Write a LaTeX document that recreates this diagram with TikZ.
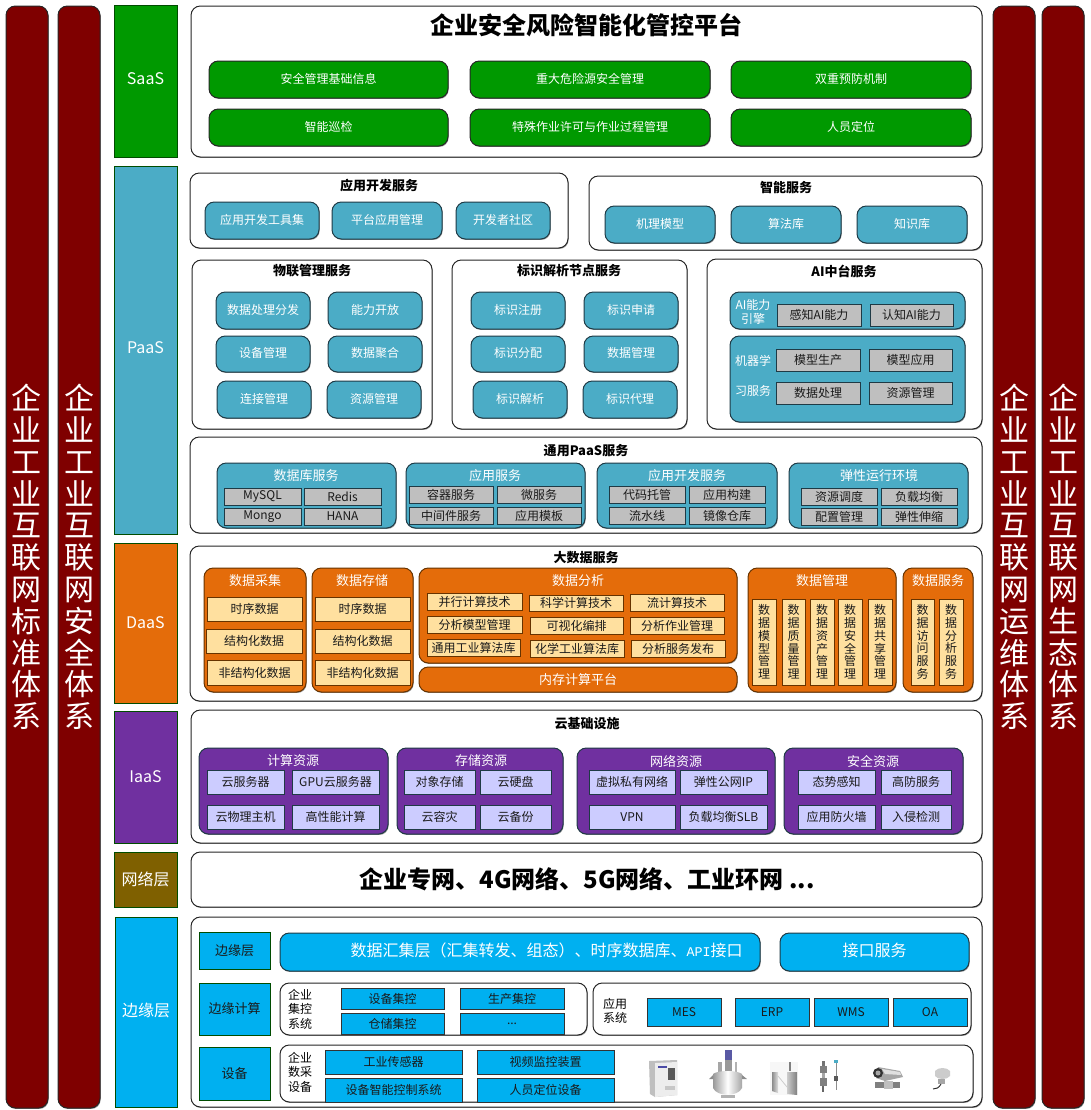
\documentclass[tikz,border=0pt]{standalone}
\usepackage{fontspec}
\setmainfont{Noto Sans CJK SC}
\newfontfamily\apifont{Liberation Mono}
\usetikzlibrary{shadows}
\definecolor{cbar}{HTML}{7F0000}
\definecolor{cgreen}{HTML}{009900}
\definecolor{cteal}{HTML}{4BACC6}
\definecolor{corange}{HTML}{E46C0A}
\definecolor{cpurple}{HTML}{7030A0}
\definecolor{colive}{HTML}{7F6000}
\definecolor{ccyan}{HTML}{00B0F0}
\definecolor{clav}{HTML}{CCCCFF}
\definecolor{cyel}{HTML}{FFE09F}
\definecolor{cgray}{HTML}{BFBFBF}
\definecolor{cedge}{HTML}{1F3A45}
\definecolor{ctext}{HTML}{1A1A1A}
\newcommand\fa{\fontsize{9}{11}\selectfont}
\newcommand\fb{\fontsize{9.75}{11}\selectfont}
\newcommand\fc{\fontsize{12}{14}\selectfont}
\newcommand\bx[7]{\node[#2,minimum width={(#5-#3)*0.75},minimum height={(#6-#4)*0.75}] (#1) at ({(#3+#5)/2},{(#4+#6)/2}) {#7};}
\newcommand\lb[5]{\node[#2] (#1) at (#3,#4) {#5};}
\tikzset{
  base/.style={draw=black!85,line width=.75pt,inner sep=0pt,outer sep=0pt,align=center,rectangle},
  shd/.style={drop shadow={shadow xshift=.5pt,shadow yshift=-.7pt,fill=black!60,opacity=.7}},
  bigbar/.style={base,fill=cbar,rounded corners=7pt,text=white,shd,font=\fontsize{22.5}{23.85}\selectfont},
  layer/.style={base,draw=black!50!green!60!black,text=white,font=\fontsize{12}{14}\selectfont},
  panel/.style={base,fill=white,rounded corners=7pt,shd,text=black},
  ttl/.style={inner sep=0pt,text=black,align=center,font=\fontsize{9.75}{11}\selectfont\bfseries},
  rsm/.style={base,rounded corners=7pt,text=white,font=\fa,shd,text height=7.9pt,text depth=2.6pt},
  grp/.style={base,draw=cedge,rounded corners=7pt,text=white,font=\fb,shd},
  sub/.style={base,draw=cedge,fill=#1,text=ctext,font=\fa,shd},
  wtxt/.style={inner sep=0pt,text=white,align=center,font=\fb},
  btxt/.style={inner sep=0pt,text=black,align=center,font=\fa},
}
\begin{document}
\begin{tikzpicture}[x=0.75pt,y=-0.75pt]
\useasboundingbox (0,0) rectangle (1091,1110);
% side bars
\bx{barA}{bigbar}{6}{6}{48}{1108}{企\\业\\工\\业\\互\\联\\网\\标\\准\\体\\系}
\bx{barB}{bigbar}{58}{6}{100}{1108}{企\\业\\工\\业\\互\\联\\网\\安\\全\\体\\系}
\bx{barC}{bigbar}{993}{6}{1035}{1108}{企\\业\\工\\业\\互\\联\\网\\运\\维\\体\\系}
\bx{barD}{bigbar}{1042}{6}{1084}{1108}{企\\业\\工\\业\\互\\联\\网\\生\\态\\体\\系}
% layers
\bx{saas}{layer,fill=cgreen,text height=8.8pt,text depth=3.2pt}{114}{5}{177}{157}{SaaS}
\bx{paas}{layer,fill=cteal,text height=8.8pt,text depth=3.2pt}{114}{166}{177}{534}{PaaS}
\bx{daas}{layer,fill=corange}{114}{543}{177}{703}{DaaS}
\bx{iaas}{layer,fill=cpurple}{114}{711}{177}{843}{IaaS}
\bx{netl}{layer,fill=colive}{114}{852}{177}{907}{网络层}
\bx{edge}{layer,fill=ccyan,text height=10.6pt,text depth=3.4pt}{115}{917}{177}{1107}{边缘层}
% SaaS
\bx{pTop}{panel}{191}{6}{982}{157}{}
\lb{tTop}{ttl,font=\fontsize{18}{20}\selectfont\bfseries}{586.5}{25}{企业安全风险智能化管控平台}
\tikzset{gbox/.style={rsm,fill=cgreen}}
\bx{s1}{gbox}{209}{61}{448}{98}{安全管理基础信息}
\bx{s2}{gbox}{470}{61}{710}{98}{重大危险源安全管理}
\bx{s3}{gbox}{731}{61}{971}{98}{双重预防机制}
\bx{s4}{gbox}{209}{109}{448}{146}{智能巡检}
\bx{s5}{gbox}{470}{109}{710}{146}{特殊作业许可与作业过程管理}
\bx{s6}{gbox}{731}{109}{971}{146}{人员定位}
% PaaS top
\tikzset{tbox/.style={rsm,fill=cteal,draw=cedge}}
\bx{pApp}{panel}{190}{173}{568}{248}{}
\lb{tApp}{ttl}{379}{185.5}{应用开发服务}
\bx{a1}{tbox}{205}{202}{319}{239}{应用开发工具集}
\bx{a2}{tbox}{332}{202}{442}{239}{平台应用管理}
\bx{a3}{tbox}{456}{202}{550}{239}{开发者社区}
\bx{pInt}{panel}{589}{176}{982}{250}{}
\lb{tInt}{ttl}{786}{188}{智能服务}
\bx{i1}{tbox}{605}{206}{715}{243}{机理模型}
\bx{i2}{tbox}{731}{206}{841}{243}{算法库}
\bx{i3}{tbox}{857}{206}{967}{243}{知识库}
% IoT
\bx{pIot}{panel}{192}{260}{432}{429}{}
\lb{tIot}{ttl}{312}{271}{物联管理服务}
\bx{o1}{tbox}{216}{292}{310}{329}{数据处理分发}
\bx{o2}{tbox}{328}{292}{422}{329}{能力开放}
\bx{o3}{tbox}{216}{336}{310}{372}{设备管理}
\bx{o4}{tbox}{328}{336}{422}{372}{数据聚合}
\bx{o5}{tbox}{217}{381}{311}{418}{连接管理}
\bx{o6}{tbox}{327}{381}{421}{418}{资源管理}
% ID
\bx{pId}{panel}{452}{260}{687}{429}{}
\lb{tId}{ttl}{569}{271}{标识解析节点服务}
\bx{d1}{tbox}{471}{292}{565}{329}{标识注册}
\bx{d2}{tbox}{584}{292}{678}{329}{标识申请}
\bx{d3}{tbox}{471}{336}{565}{372}{标识分配}
\bx{d4}{tbox}{584}{336}{678}{372}{数据管理}
\bx{d5}{tbox}{473}{381}{567}{418}{标识解析}
\bx{d6}{tbox}{583}{381}{677}{418}{标识代理}
% AI
\bx{pAi}{panel}{707}{259}{982}{429}{}
\lb{tAi}{ttl}{844}{271}{AI中台服务}
\bx{ai1}{tbox}{730}{292}{965}{329}{}
\lb{aiL}{wtxt,font=\fa}{753}{312}{AI能力\\引擎}
\bx{ai2}{sub=cgray}{777}{304}{861}{326}{感知AI能力}
\bx{ai3}{sub=cgray}{870}{304}{953}{326}{认知AI能力}
\bx{ai4}{tbox}{730}{336}{965}{422}{}
\lb{aiM}{wtxt,font=\fa}{753}{361}{机器学}
\lb{aiN}{wtxt,font=\fa}{753}{391}{习服务}
\bx{ai5}{sub=cgray}{776}{349}{860}{371}{模型生产}
\bx{ai6}{sub=cgray}{869}{349}{952}{371}{模型应用}
\bx{ai7}{sub=cgray}{776}{382}{860}{404}{数据处理}
\bx{ai8}{sub=cgray}{869}{382}{952}{404}{资源管理}
% generic PaaS
\bx{pGen}{panel}{190}{437}{982}{533}{}
\lb{tGen}{ttl}{586}{451}{通用PaaS服务}
\tikzset{tgrp/.style={grp,fill=cteal}}
\bx{g1}{tgrp}{217}{463}{396}{528}{}
\lb{g1t}{wtxt}{306}{475.5}{数据库服务}
\bx{g11}{sub=cgray}{224}{488}{301}{505}{MySQL}
\bx{g12}{sub=cgray}{304}{488}{381}{505}{Redis}
\bx{g13}{sub=cgray}{224}{508}{301}{525}{Mongo}
\bx{g14}{sub=cgray}{304}{508}{381}{525}{HANA}
\bx{g2}{tgrp}{406}{463}{585}{528}{}
\lb{g2t}{wtxt}{495}{475.5}{应用服务}
\bx{g21}{sub=cgray}{409}{486}{493}{503}{容器服务}
\bx{g22}{sub=cgray}{497}{486}{581}{503}{微服务}
\bx{g23}{sub=cgray}{409}{507}{493}{524}{中间件服务}
\bx{g24}{sub=cgray}{497}{507}{581}{524}{应用模板}
\bx{g3}{tgrp}{597}{463}{777}{528}{}
\lb{g3t}{wtxt}{687}{475.5}{应用开发服务}
\bx{g31}{sub=cgray}{609}{486}{685}{503}{代码托管}
\bx{g32}{sub=cgray}{689}{486}{765}{503}{应用构建}
\bx{g33}{sub=cgray}{609}{507}{685}{524}{流水线}
\bx{g34}{sub=cgray}{689}{507}{765}{524}{镜像仓库}
\bx{g4}{tgrp}{789}{463}{968}{528}{}
\lb{g4t}{wtxt}{879}{475.5}{弹性运行环境}
\bx{g41}{sub=cgray}{801}{488}{877}{505}{资源调度}
\bx{g42}{sub=cgray}{881}{488}{957}{505}{负载均衡}
\bx{g43}{sub=cgray}{801}{508}{877}{525}{配置管理}
\bx{g44}{sub=cgray}{881}{508}{957}{525}{弹性伸缩}
% DaaS
\bx{pBig}{panel}{190}{546}{982}{701}{}
\lb{tBig}{ttl}{586}{558}{大数据服务}
\tikzset{ogrp/.style={grp,draw=black!60!orange,fill=corange}}
\tikzset{ysub/.style={sub=cyel,draw=black!60!orange}}
\bx{c1}{ogrp}{204}{568}{306}{692}{}
\lb{c1t}{wtxt}{255}{581}{数据采集}
\bx{c11}{ysub}{207}{597}{302}{621}{时序数据}
\bx{c12}{ysub}{206}{629}{302}{653}{结构化数据}
\bx{c13}{ysub}{207}{660}{302}{685}{非结构化数据}
\bx{c2}{ogrp}{312}{568}{413}{692}{}
\lb{c2t}{wtxt}{362}{581}{数据存储}
\bx{c21}{ysub}{315}{597}{410}{621}{时序数据}
\bx{c22}{ysub}{315}{629}{410}{653}{结构化数据}
\bx{c23}{ysub}{315}{660}{410}{685}{非结构化数据}
\bx{c3}{ogrp}{419}{568}{737}{663}{}
\lb{c3t}{wtxt}{578}{581}{数据分析}
\bx{c31}{ysub}{427}{593}{522}{610}{并行计算技术}
\bx{c32}{ysub}{529}{595}{623}{611}{科学计算技术}
\bx{c33}{ysub}{630}{594}{724}{611}{流计算技术}
\bx{c34}{ysub}{427}{616}{522}{633}{分析模型管理}
\bx{c35}{ysub}{530}{617}{623}{634}{可视化编排}
\bx{c36}{ysub}{630}{617}{724}{634}{分析作业管理}
\bx{c37}{ysub}{427}{639}{520}{656}{通用工业算法库}
\bx{c38}{ysub}{530}{640}{624}{657}{化学工业算法库}
\bx{c39}{ysub}{631}{640}{725}{657}{分析服务发布}
\bx{c4}{ogrp,text=white}{419}{667}{737}{692}{内存计算平台}
\bx{c5}{ogrp}{748}{568}{896}{692}{}
\lb{c5t}{wtxt}{822}{581}{数据管理}
\tikzset{vsub/.style={ysub,font=\fontsize{9}{9.6}\selectfont}}
\bx{c51}{vsub}{752}{599}{776}{685}{数\\据\\模\\型\\管\\理}
\bx{c52}{vsub}{782}{599}{805}{685}{数\\据\\质\\量\\管\\理}
\bx{c53}{vsub}{810}{599}{834}{685}{数\\据\\资\\产\\管\\理}
\bx{c54}{vsub}{838}{599}{862}{685}{数\\据\\安\\全\\管\\理}
\bx{c55}{vsub}{868}{599}{892}{685}{数\\据\\共\\享\\管\\理}
\bx{c6}{ogrp}{903}{568}{973}{692}{}
\lb{c6t}{wtxt}{938}{581}{数据服务}
\bx{c61}{vsub}{911}{599}{934}{685}{数\\据\\访\\问\\服\\务}
\bx{c62}{vsub}{939}{599}{963}{685}{数\\据\\分\\析\\服\\务}
% IaaS
\bx{pCloud}{panel}{191}{710}{982}{843}{}
\lb{tCloud}{ttl}{587}{724}{云基础设施}
\tikzset{pgrp/.style={grp,fill=cpurple},lsub/.style={sub=clav}}
\bx{n1}{pgrp}{199}{748}{388}{834}{}
\lb{n1t}{wtxt}{293}{761}{计算资源}
\bx{n11}{lsub}{207}{770}{284}{794}{云服务器}
\bx{n12}{lsub}{292}{770}{379}{794}{GPU云服务器}
\bx{n13}{lsub}{207}{805}{284}{829}{云物理主机}
\bx{n14}{lsub}{292}{805}{379}{829}{高性能计算}
\bx{n2}{pgrp}{397}{748}{563}{834}{}
\lb{n2t}{wtxt}{481}{761}{存储资源}
\bx{n21}{lsub}{404}{770}{475}{794}{对象存储}
\bx{n22}{lsub}{480}{770}{551}{794}{云硬盘}
\bx{n23}{lsub}{404}{805}{475}{829}{云容灾}
\bx{n24}{lsub}{480}{805}{551}{829}{云备份}
\bx{n3}{pgrp}{577}{748}{775}{834}{}
\lb{n3t}{wtxt}{676}{761}{网络资源}
\bx{n31}{lsub}{589}{770}{675}{794}{虚拟私有网络}
\bx{n32}{lsub}{680}{770}{767}{794}{弹性公网IP}
\bx{n33}{lsub}{589}{805}{675}{829}{VPN}
\bx{n34}{lsub}{680}{805}{767}{829}{负载均衡SLB}
\bx{n4}{pgrp}{784}{748}{963}{834}{}
\lb{n4t}{wtxt}{873}{761}{安全资源}
\bx{n41}{lsub}{798}{770}{875}{794}{态势感知}
\bx{n42}{lsub}{881}{770}{951}{794}{高防服务}
\bx{n43}{lsub}{798}{805}{875}{829}{应用防火墙}
\bx{n44}{lsub}{881}{805}{951}{829}{入侵检测}
% network
\bx{pNet}{panel}{191}{852}{982}{907}{}
\lb{tNet}{ttl,font=\fontsize{18}{20}\selectfont\bfseries}{587}{879}{企业专网、4G网络、5G网络、工业环网 ...}
% edge
\bx{pEdge}{panel}{191}{917}{982}{1107}{}
\tikzset{clab/.style={base,draw=black!50!green!60!black,fill=ccyan,text=ctext,font=\fb},
  csub/.style={sub=ccyan,draw=black!80},
  cbig/.style={rsm,fill=ccyan,draw=cedge,font=\fc,text height=10.6pt,text depth=3.4pt},
  tiny/.style={inner sep=0pt,text=black,align=center,font=\fontsize{9}{10.8}\selectfont}}
\bx{e1}{clab}{199}{932}{270}{969}{边缘层}
\bx{e2}{clab}{199}{983}{270}{1035}{边缘计算}
\bx{e3}{clab}{199}{1047}{270}{1100}{设备}
\bx{e4}{cbig}{280}{933}{760}{971}{\hspace*{40pt}数据汇集层（汇集转发、组态）、时序数据库、{\apifont\fontsize{10}{14}\selectfont API}接口}
\bx{e5}{cbig}{780}{933}{969}{971}{接口服务}
\bx{pCtl}{panel}{280}{983}{587}{1035}{}
\lb{ctlL}{tiny}{300}{1009}{企业\\集控\\系统}
\bx{e21}{csub}{341}{988}{444}{1009}{设备集控}
\bx{e22}{csub}{460}{988}{564}{1009}{生产集控}
\bx{e23}{csub}{341}{1013}{444}{1034}{仓储集控}
\bx{e24}{csub}{460}{1013}{564}{1034}{...}
\bx{pSys}{panel}{593}{983}{971}{1035}{}
\lb{sysL}{tiny}{615}{1011}{应用\\系统}
\bx{e31}{csub}{647}{998}{721}{1026}{MES}
\bx{e32}{csub}{735}{998}{809}{1026}{ERP}
\bx{e33}{csub}{814}{998}{888}{1026}{WMS}
\bx{e34}{csub}{893}{998}{967}{1026}{OA}
\bx{pDev}{panel}{280}{1045}{973}{1102}{}
\lb{devL}{tiny}{300}{1072}{企业\\数采\\设备}
\bx{e41}{csub}{325}{1050}{462}{1074}{工业传感器}
\bx{e42}{csub}{477}{1050}{614}{1074}{视频监控装置}
\bx{e43}{csub}{325}{1078}{462}{1102}{设备智能控制系统}
\bx{e44}{csub}{477}{1078}{614}{1102}{人员定位设备}
% device pictures
% inverter
\fill[black!25] (649,1061) -- (677,1060) -- (677,1095) -- (655,1097) -- (650,1094) -- cycle;
\fill[black!7] (655,1063) -- (677,1062) -- (677,1095) -- (655,1097) -- cycle;
\fill[blue!50!black!70] (658,1066) rectangle (667,1068);
\fill[black!65] (668,1068) rectangle (675,1080);
\fill[black!22] (665,1086) rectangle (675,1090);
% reactor
\fill[black!40] (725,1060) rectangle (732,1073);
\fill[blue!45!black!65] (725,1050) rectangle (732,1060);
\fill[black!35] (718,1062) rectangle (722,1072);
\fill[black!30] (735,1062) rectangle (737,1072);
\shade[left color=black!40,right color=black!35,middle color=white] (713,1074) .. controls (718,1070) and (737,1070) .. (742,1074) -- (742,1088) .. controls (738,1097) and (717,1097) .. (713,1088) -- cycle;
\fill[black!45] (709,1079) -- (713,1075) -- (713,1079) -- cycle;
\fill[black!45] (747,1079) -- (742,1075) -- (742,1079) -- cycle;
\fill[black!30] (721,1095) rectangle (735,1098);
% turnstile
\fill[black!3] (770,1062) rectangle (798,1095);
\shade[left color=black!45,right color=black!12] (772,1072) -- (778,1072) -- (778,1093) -- (772,1091) -- cycle;
\shade[left color=black!20,right color=black!50] (787,1072) -- (797,1072) -- (797,1095) -- (787,1094) -- cycle;
\fill[black!50] (789,1062) rectangle (791,1071);
\draw[black!20,line width=.6pt] (778,1076) -- (787,1087);
% level sensors
\fill[black!55] (822,1061) rectangle (825,1066);
\fill[black!50] (820,1066) rectangle (827,1073);
\fill[black!35] (822,1073) rectangle (825,1078);
\fill[black!50] (820,1078) rectangle (827,1086);
\fill[black!60] (822,1086) rectangle (824,1092);
\fill[cteal] (834,1060) rectangle (838,1063);
\fill[black!45] (835.5,1063) rectangle (836.5,1090);
\fill[black!65] (834,1076) rectangle (838,1081);
% camera
\fill[black!35] (878,1067) -- (900,1071) -- (903,1077) -- (885,1081) -- (876,1078) -- cycle;
\fill[black!12] (882,1069) -- (900,1072) -- (901,1075) -- (885,1074) -- cycle;
\fill[black!80] (878,1073) circle (5);
\fill[black!35] (878,1073) circle (2.5);
\fill[black!50] (875,1082) rectangle (900,1088);
\fill[black!25] (884,1081) rectangle (893,1089);
% round sensor
\fill[black!20] (935,1071) .. controls (938,1067) and (947,1067) .. (950,1071) -- (950,1076) .. controls (947,1080) and (938,1080) .. (935,1076) -- cycle;
\fill[black!35] (938,1079) rectangle (945,1084);
\draw[black!85,line width=.7pt] (941,1084) .. controls (939,1088) and (936,1089) .. (933,1089);
\end{tikzpicture}
\end{document}
